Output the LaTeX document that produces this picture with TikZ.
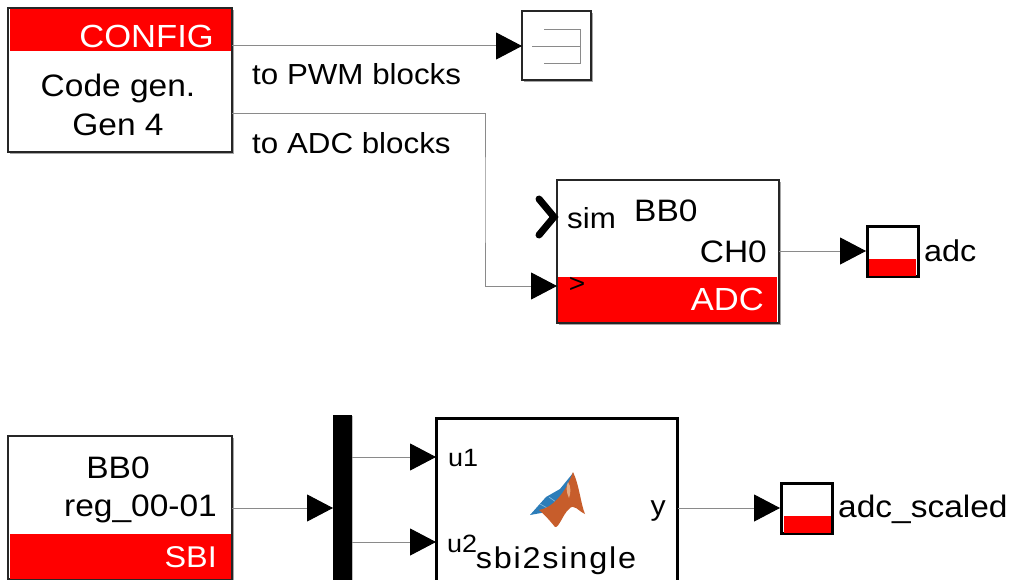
\documentclass[tikz,border=0pt]{standalone}
\usepackage{fontspec}
\setmainfont[FakeStretch=1.08]{Liberation Sans}
\usetikzlibrary{arrows.meta,shadows,calc}
\definecolor{simred}{HTML}{FF0000}
\definecolor{wiregray}{HTML}{8A8A8A}
\definecolor{logoblue}{RGB}{44,125,185}
\definecolor{logolight}{RGB}{140,190,225}
\definecolor{logoorange}{RGB}{199,93,43}
\definecolor{logopale}{RGB}{232,170,130}
\newcommand{\fs}[1]{\fontsize{#1}{#1}\selectfont}
\tikzset{
  x=1pt,y=-1pt,
  blockbox/.style={draw=black!85,line width=1.6pt,fill=white,inner sep=0pt,rectangle,
    drop shadow={shadow xshift=1.6pt,shadow yshift=-1.6pt,fill=black,opacity=.35}},
  heavybox/.style={draw=black,line width=3pt,fill=white,inner sep=0pt,rectangle,
    drop shadow={shadow xshift=1.2pt,shadow yshift=-1.2pt,fill=black,opacity=.3}},
  redband/.style={fill=simred,inner sep=0pt,rectangle},
  wire/.style={draw=wiregray,line width=1pt,-{Triangle[length=26pt,width=27pt,color=black]}},
  plainwire/.style={draw=wiregray,line width=1pt},
  big/.style={inner sep=0pt,text=black,font=\fs{31}},
  whitelabel/.style={inner sep=0pt,text=white,font=\fs{32}},
  midlabel/.style={inner sep=0pt,text=black,font=\fs{29}},
  smalllabel/.style={inner sep=0pt,text=black,font=\fs{25}},
}
\begin{document}
\begin{tikzpicture}
\clip (0,0) rectangle (1011,580);
\fill[white] (0,0) rectangle (1011,580);

% CONFIG block
\node[blockbox,minimum width=224pt,minimum height=144pt] (cfg) at (120,80) {};
\node[redband,minimum width=221pt,minimum height=42pt] (cfgband) at (120,30) {};
\node[whitelabel,anchor=east] (cfgt) at (214,36) {CONFIG};
\node[big,anchor=center] (cfga) at (118,88) {Code gen.};
\node[big,anchor=center] (cfgb) at (118,125) {Gen 4};
\coordinate (cfgp1) at (232,46);
\coordinate (cfgp2) at (232,114);

% Terminator/scope block
\node[blockbox,minimum width=69pt,minimum height=69pt] (term) at (556.5,45.5) {};
\coordinate (termin) at (522,46);
\draw[plainwire] (532,47) -- (580,47);
\draw[plainwire] (544,30) -- (580,30) -- (580,64) -- (544,64);

\draw[wire] (cfgp1) -- (termin);
\node[midlabel,anchor=west] (lpwm) at (252,74) {to PWM blocks};
\node[midlabel,anchor=west] (ladc) at (252,143) {to ADC blocks};

% ADC block
\node[blockbox,minimum width=222pt,minimum height=143pt] (adc) at (668,251.5) {};
\node[redband,minimum width=219pt,minimum height=45pt] (adcband) at (667.5,299.5) {};
\node[whitelabel,anchor=east] (adct) at (764,299) {ADC};
\node[midlabel,anchor=west] (sim) at (567,218) {sim};
\node[big,anchor=west] (bb0a) at (634,211) {BB0};
\node[big,anchor=east] (ch0) at (767,252) {CH0};
\node[midlabel,anchor=center,font=\fs{26}] (gt) at (577,285) {>};
\coordinate (simtip) at (555,217);
\draw[black,line width=7pt,line cap=round,line join=miter] ($(simtip)+(-16,-18)$) -- ($(simtip)+(-1,0)$) -- ($(simtip)+(-16,18)$);
\coordinate (adcclk) at (557,286);
\coordinate (adcout) at (779,251);
\draw[wire] (cfgp2) -| (485,200) |- (adcclk);

% adc display
\node[heavybox,minimum width=51pt,minimum height=50pt] (disp1) at (892.5,251) {};
\node[redband,minimum width=47pt,minimum height=17pt] (disp1r) at (892.5,267.5) {};
\node[midlabel,anchor=west,font=\fs{30}] (disp1t) at (924,251) {adc};
\coordinate (disp1in) at (866,251);
\draw[wire] (adcout) -- (disp1in);

% SBI block
\node[blockbox,minimum width=224pt,minimum height=143pt] (sbi) at (120,507.5) {};
\node[redband,minimum width=221pt,minimum height=45pt] (sbiband) at (120,556) {};
\node[big,anchor=center] (bb0b) at (118,468) {BB0};
\node[big,anchor=east] (reg) at (217,509) {reg\_00-01};
\node[whitelabel,anchor=east,font=\fs{30}] (sbit) at (217,557) {SBI};
\coordinate (sbiout) at (232,508);

% Demux bar
\node[fill=black,inner sep=0pt,minimum width=19pt,minimum height=170pt,rectangle,
  drop shadow={shadow xshift=1.2pt,shadow yshift=-1.2pt,fill=black,opacity=.25}] (mux) at (342.5,500) {};
\coordinate (muxin) at (333,508);
\coordinate (muxo1) at (352,457);
\coordinate (muxo2) at (352,542);
\draw[wire] (sbiout) -- (muxin);

% Function block
\node[heavybox,minimum width=241pt,minimum height=165pt] (fun) at (557,501) {};
\coordinate (funi1) at (436,457);
\coordinate (funi2) at (436,542);
\coordinate (funo) at (678,508);
\draw[wire] (muxo1) -- (funi1);
\draw[wire] (muxo2) -- (funi2);
\node[smalllabel,anchor=west] (u1) at (448,458) {u1};
\node[smalllabel,anchor=west] (u2) at (447,544) {u2};
\node[smalllabel,anchor=east,font=\fs{28}] (yl) at (666,511) {y};
\node[inner sep=0pt,anchor=center,text=black,font=\fs{30}\addfontfeature{LetterSpace=6}] (fname) at (556,561) {sbi2single};

% MATLAB logo
\fill[logoblue] (530,515) -- (546,497) -- (560,489) -- (573,473) -- (572,490) -- (550,510) -- (541,513) -- cycle;
\draw[logolight,line width=.6pt] (540,504) -- (549,509) (549,497) -- (556,502);
\fill[logoorange] (573,472) .. controls (579,484) and (581,505) .. (585,514)
  .. controls (578,511) and (574,503) .. (569,509)
  .. controls (563,514) and (559,528) .. (555,527)
  .. controls (551,522) and (545,515) .. (539,510)
  .. controls (552,508) and (565,494) .. (573,472) -- cycle;
\fill[logopale] (568,482) .. controls (571,486) and (571,493) .. (569,498) .. controls (566,492) and (566,486) .. (568,482) -- cycle;

% adc_scaled display
\node[heavybox,minimum width=51pt,minimum height=50pt] (disp2) at (807,508) {};
\node[redband,minimum width=47pt,minimum height=17pt] (disp2r) at (807,524.5) {};
\node[midlabel,anchor=west,font=\fs{31}] (disp2t) at (838,509) {adc\_scaled};
\coordinate (disp2in) at (780,508);
\draw[wire] (funo) -- (disp2in);
\end{tikzpicture}
\end{document}
